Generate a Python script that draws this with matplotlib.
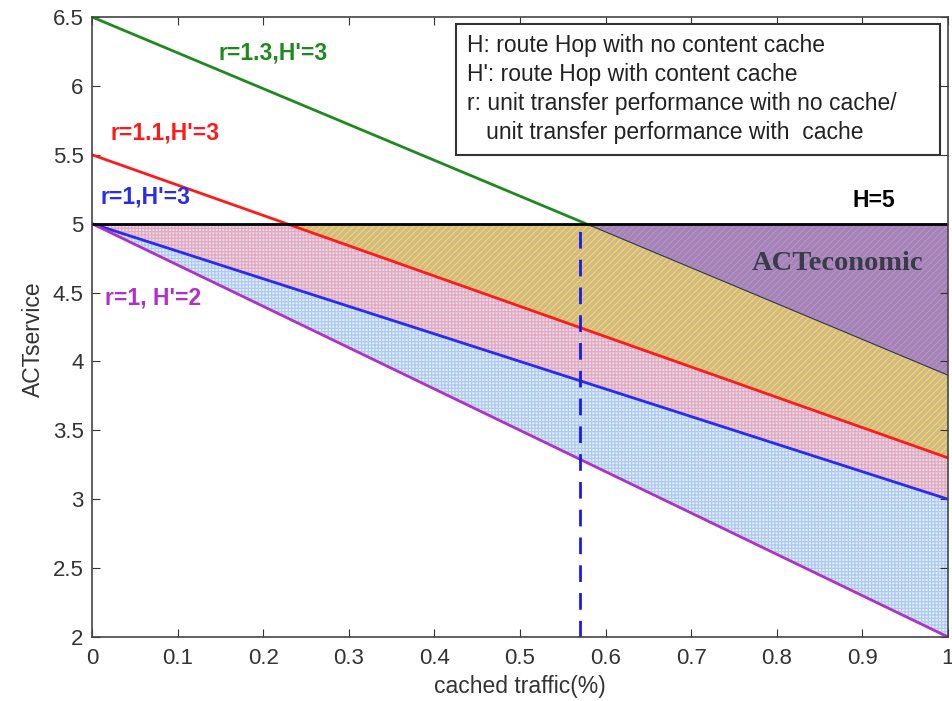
import numpy as np
import matplotlib.pyplot as plt
from matplotlib.patches import Rectangle

# cached traffic fraction
x = np.array([0.0, 1.0])

# ACTservice at x=0 and x=1 for each case
act_r13 = np.array([6.5, 3.9])     # r=1.3, H'=3 (drawn up to H=5)
act_r11 = np.array([5.5, 3.3])     # r=1.1, H'=3
act_r1_h3 = np.array([5.0, 3.0])   # r=1, H'=3
act_r1_h2 = np.array([5.0, 2.0])   # r=1, H'=2
H = 5.0
x_cross = 0.577                    # where r=1.3 meets H=5
x_dash = 0.57

xticks = [0, 0.1, 0.2, 0.3, 0.4, 0.5, 0.6, 0.7, 0.8, 0.9, 1]
yticks = [2, 2.5, 3, 3.5, 4, 4.5, 5, 5.5, 6, 6.5]
legend_lines = ["H: route Hop with no content cache",
                "H': route Hop with content cache",
                "r: unit transfer performance with no cache/",
                "   unit transfer performance with  cache"]

plt.rcParams['font.family'] = ['Liberation Sans', 'DejaVu Sans']
plt.rcParams['hatch.linewidth'] = 0.8

fig = plt.figure(figsize=(9.53, 7.01), dpi=100)
ax = fig.add_axes([92 / 953, 64 / 701, 856 / 953, 620 / 701])

xs = np.linspace(0, 1, 400)
def line(v):
    return np.minimum(np.interp(xs, x, v), H)

# shaded regions, layered
ax.fill_between(xs, line(act_r1_h2), H, facecolor='#e2ecf9', edgecolor='#a9c9f0',
                hatch='+++++', lw=0)
ax.fill_between(xs, line(act_r1_h3), H, facecolor='#e4d8ea', edgecolor='#e6a6ba',
                hatch='+++++', lw=0)
ax.fill_between(xs, line(act_r11), H, facecolor='#d2b890', edgecolor='#f0e040',
                hatch='/////', lw=0)
mask = xs >= x_cross
ax.fill_between(xs[mask], line(act_r13)[mask], H, facecolor='#a184b8',
                edgecolor='#c090c0', hatch='/////', lw=0)

# lines
xg = np.array([0, x_cross])
ax.plot(xg, np.interp(xg, x, act_r13), color='#1e8a1e', lw=2)
xe = np.array([x_cross, 1])
ax.plot(xe, np.interp(xe, x, act_r13), color='#333355', lw=0.8)
ax.plot(x, act_r11, color='#ff1a1a', lw=2)
ax.plot(x, act_r1_h3, color='#2a2af0', lw=2)
ax.plot(x, act_r1_h2, color='#b030c8', lw=2)
ax.axhline(H, color='black', lw=2)
ax.plot([x_dash, x_dash], [2, H], color='#1a1aee', lw=2, ls=(0, (6, 4)))

# labels
lbl = dict(fontsize=16.5, fontweight='bold', va='center')
ax.text(0.148, 6.24, "r=1.3,H'=3", color='#1e8a1e', **lbl)
ax.text(0.022, 5.66, "r=1.1,H'=3", color='#ff1a1a', **lbl)
ax.text(0.01, 5.19, "r=1,H'=3", color='#2a2af0', **lbl)
ax.text(0.015, 4.46, "r=1, H'=2", color='#b030c8', **lbl)
ax.text(0.889, 5.17, "H=5", color='black', **lbl)
ax.text(0.771, 4.71, "ACTeconomic", color='#3a3a4a', fontsize=20.5, fontweight='bold',
        va='center', family=['Liberation Serif', 'DejaVu Serif'])

# description box
ax.add_patch(Rectangle((0.425, 0.777), 0.566, 0.212, transform=ax.transAxes,
                       facecolor='white', edgecolor='#333333', lw=1.5, zorder=5))
ax.text(0.438, 0.973, "\n".join(legend_lines), transform=ax.transAxes, fontsize=16.5,
        color='#222222', va='top', ha='left', linespacing=1.33, zorder=6)

ax.set_xlim(0, 1)
ax.set_ylim(2, 6.5)
ax.set_xticks(xticks)
ax.set_xticklabels([f"{t:g}" for t in xticks])
ax.set_yticks(yticks)
ax.set_yticklabels([f"{t:g}" for t in yticks])
ax.tick_params(direction='in', top=True, right=True, labelsize=16, length=6, colors='#333333')
ax.tick_params(axis='x', pad=8)
ax.tick_params(axis='y', pad=6)
for s in ax.spines.values():
    s.set_color('#444444')
    s.set_linewidth(1.2)
ax.set_xlabel("cached traffic(%)", fontsize=16.5, color='#333333', labelpad=4)
ax.set_ylabel("ACTservice", fontsize=16.5, color='#333333')
ax.yaxis.set_label_coords(-0.055, 0.48)

fig.savefig('out.png', dpi=100)
